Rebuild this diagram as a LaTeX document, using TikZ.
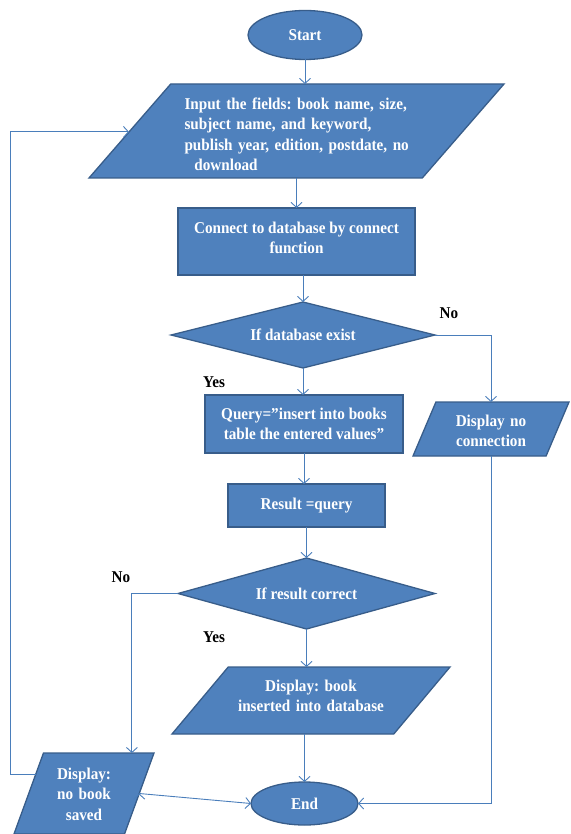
\documentclass[tikz,border=0pt]{standalone}
\usepackage{fontspec}
\setmainfont{Liberation Serif}[FakeStretch=0.92]
\usepackage{tikz}
\usetikzlibrary{shapes.geometric}
\usetikzlibrary{arrows.meta}
\usetikzlibrary{calc}
\definecolor{boxblue}{HTML}{4F81BD}
\definecolor{boxedge}{HTML}{385D8A}
\definecolor{linkblue}{HTML}{4A7EBB}

\begin{document}
\begin{tikzpicture}[x=1pt,y=-1pt,
	font=\fontsize{16.5}{20.3}\selectfont\bfseries\frenchspacing,
	every node/.style={inner sep=2pt, outer sep=0pt},
	blk/.style={draw=boxedge, line width=1.3pt, fill=boxblue, text=white, align=center},
	txt/.style={execute at begin node={\rule{0pt}{\dimexpr14.2pt+#1\relax}},
		execute at end node={\rule[\dimexpr#1-6.1pt\relax]{0pt}{0pt}}},
	txt/.default=0pt,
	proc/.style={blk, rectangle},
	io/.style={blk, trapezium, trapezium stretches body, inner ysep=0pt},
	dec/.style={blk, diamond, aspect=4, inner sep=0pt},
	term/.style={blk, ellipse},
	line/.style={draw=linkblue, line width=0.9pt, -{Straight Barb[length=5pt,width=11pt]}},
	lbl/.style={text=black}]
\useasboundingbox (0,0) rectangle (570,834);

\node[term, minimum width=114pt, minimum height=49pt] (start) at (305,35) {Start};
% parallelograms: height from text height + text depth, width from minimum width
\node[io, align=left, trapezium left angle=49, trapezium right angle=131,
	minimum width=415pt, text width=244pt, text height=25.6pt, text depth=68.4pt,
	execute at begin node={\leftskip=10pt}] (input) at (296.5,131)
	{Input the fields: book name, size,\\subject name, and keyword,\\publish year, edition, postdate, no\\\hspace*{0.6em}download};
\node[proc, txt=-1.8pt, minimum width=237pt, minimum height=67pt] (connect) at (296.5,241.5) {Connect to database by connect\\function};
\node[dec, minimum width=264pt, minimum height=66pt] (ifdb) at (303,335) {If database exist};
\node[io, trapezium left angle=67, trapezium right angle=113,
	minimum width=156pt, text width=100pt, text height=24.6pt, text depth=29.4pt] (nocon) at (491,429) {Display no\\connection};
\node[proc, minimum width=198pt, minimum height=58pt] (query) at (304,424) {Query=”insert into books\\table the entered values”};
\node[proc, minimum width=157pt, minimum height=43pt] (result) at (306.5,505.5) {Result =query};
\node[dec, minimum width=257pt, minimum height=71pt] (ifres) at (306.5,593.5) {If result correct};
\node[io, trapezium left angle=50, trapezium right angle=130,
	minimum width=278pt, text width=150pt, text height=24.6pt, text depth=42.4pt] (dbook) at (311,700.5) {Display: book\\inserted into database};
\node[io, trapezium left angle=70, trapezium right angle=110,
	minimum width=140pt, text width=70pt, text height=26.6pt, text depth=54.4pt] (nobook) at (84,793.5) {Display:\\no book\\saved};
\node[term, minimum width=107pt, minimum height=43pt] (stop) at (304.5,803.5) {End};

\node[lbl] (no1) at (449,313) {No};
\node[lbl] (yes1) at (214,382) {Yes};
\node[lbl] (no2) at (121,577) {No};
\node[lbl] (yes2) at (214,637) {Yes};

\path[line]
(start.south) edge (start.south |- input.north)
(input.south -| connect.north) edge (connect.north)
(connect.south -| ifdb.north) edge (ifdb.north)
(ifdb.south) edge (ifdb.south |- query.north)
(query.south) edge (query.south |- result.north)
(result.south -| ifres.north) edge (ifres.north)
(ifres.south) edge (ifres.south |- dbook.north)
(dbook.south -| stop.north) edge (stop.north)
(nobook.east) edge (stop.west)
;
\draw[line] (ifdb.east) -| (nocon.north);
\draw[line] (nocon.south) |- (stop.east);
\draw[line] (ifres.west) -| ($(nobook.top left corner)!0.8!(nobook.top right corner)$);
\draw[line] ($(nobook.bottom left corner)!0.73!(nobook.top left corner)$) -- ++(-25,0)
	|- ($(input.bottom left corner)!0.49!(input.top left corner)$);
\end{tikzpicture}
\end{document}
